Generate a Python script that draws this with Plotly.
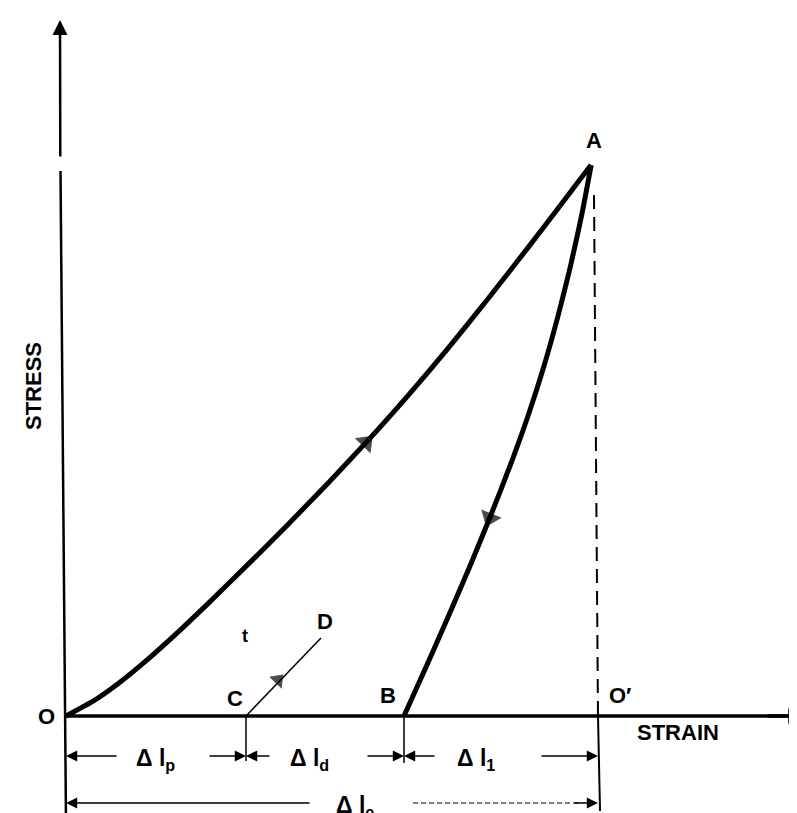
import plotly.graph_objects as go

# ---------------- data (strain, stress in arbitrary diagram units) ----------------
load_strain = [0, 2.7, 5.2, 8.2, 11.2, 14.2, 18.2, 22.2, 26.2, 30.2, 34.2, 38.2, 42.2, 46.2, 49.2, 52.5]
load_stress = [0, 1.48, 3.23, 5.69, 8.39, 11.24, 15.16, 19.16, 23.28, 27.56, 32.04, 36.76, 41.72, 46.84, 50.74, 55.1]

unload_strain = [52.52, 51.55, 50.45, 49.2, 47.8, 46.2, 44.4, 42.45, 40.4, 38.25, 36.05, 33.8]
unload_stress = [55.1, 50.0, 45.0, 40.0, 35.0, 30.0, 25.0, 20.0, 15.0, 10.0, 5.0, 0]

# creep-recovery segment C -> D
cd_strain = [18.0, 25.5]
cd_stress = [0.0, 7.8]

# key strains on the axis
strain_O, strain_C, strain_B, strain_O2 = 0.0, 18.0, 33.8, 53.2
stress_A = 52.1

point_names = ["O", "A", "B", "C", "D", "O′"]
label_x = [-2.0, 52.8, 32.2, 16.9, 25.9, 55.4]
label_y = [0.0, 57.6, 2.1, 1.8, 9.5, 2.1]

# direction arrows on curves
arrow_x = [30.0, 42.37, 21.2]
arrow_y = [27.35, 19.8, 3.6]
arrow_angle = [44, 202, 44]

# dimension rows
dim_rows = [-4.0, -4.0, -4.0, -8.7]
dim_text = ["Δ l<sub>p</sub>", "Δ l<sub>d</sub>", "Δ l<sub>1</sub>", "Δ l<sub>e</sub>"]
dim_text_x = [8.9, 24.3, 41.0, 28.9]
dim_left = [(strain_O, 5.2), (strain_C, 20.5), (strain_B, 37.0), (strain_O, 24.5)]
dim_right = [(14.2, strain_C), (30.0, strain_B), (47.4, strain_O2), (34.7, strain_O2)]

# ---------------- figure ----------------
BLK = "#000000"
FONT = "Liberation Sans"
fig = go.Figure()

fig.add_trace(go.Scatter(x=load_strain, y=load_stress, mode="lines",
                         line=dict(color=BLK, width=5, shape="spline", smoothing=0.6),
                         hoverinfo="skip", showlegend=False))
fig.add_trace(go.Scatter(x=unload_strain, y=unload_stress, mode="lines",
                         line=dict(color=BLK, width=5, shape="spline", smoothing=0.6),
                         hoverinfo="skip", showlegend=False))
fig.add_trace(go.Scatter(x=cd_strain, y=cd_stress, mode="lines",
                         line=dict(color=BLK, width=1.5),
                         hoverinfo="skip", showlegend=False))
fig.add_trace(go.Scatter(x=arrow_x, y=arrow_y, mode="markers",
                         marker=dict(symbol="triangle-up", size=[19, 19, 15], angle=arrow_angle,
                                     color=BLK, line=dict(width=0)),
                         hoverinfo="skip", showlegend=False))

shapes = []
def seg(x0, y0, x1, y1, w=2, dash=None):
    d = dict(type="line", xref="x", yref="y", x0=x0, y0=y0, x1=x1, y1=y1,
             line=dict(color=BLK, width=w))
    if dash:
        d["line"]["dash"] = dash
    shapes.append(d)

# x axis
seg(0, 0, 73.2, 0, w=3.5)
# y axis (with small print gap) and its extension below origin
seg(0, -10.6, -0.55, 54.5, w=2.5)
# extension lines
seg(strain_C, 0, strain_C, -4.5, w=1.5)
seg(strain_B, 0, strain_B, -4.7, w=1.5)
seg(strain_O2, 0, strain_O2 + 0.2, -9.5, w=2)
# dashed line A -> O'
seg(52.8, stress_A, strain_O2, 0, w=2, dash="14px,8px")

annotations = []
def arrow(hx, hy, tx, ty, w=1.6, size=1.4, head=2):
    annotations.append(dict(x=hx, y=hy, ax=tx, ay=ty, xref="x", yref="y", axref="x", ayref="y",
                            text="", showarrow=True, arrowhead=head, arrowsize=size,
                            arrowwidth=w, arrowcolor=BLK))

for i, yv in enumerate(dim_rows):
    head_l, tail_l = dim_left[i]
    arrow(head_l, yv, tail_l, yv)
    tail_r, head_r = dim_right[i]
    if i == 3:
        seg(tail_r, yv, head_r - 2.0, yv, w=1.2, dash="5px,3px")
        arrow(head_r, yv, head_r - 2.5, yv)
    else:
        arrow(head_r, yv, tail_r, yv)

# axis arrowheads
arrow(-0.6, 69.6, -0.57, 55.8, w=2.5, size=1.2)
arrow(73.8, 0, 70.0, 0, w=3.5, size=0.9)

for i, t in enumerate(dim_text):
    annotations.append(dict(x=dim_text_x[i], y=dim_rows[i] - 0.3, xref="x", yref="y", text=t,
                            showarrow=False, xanchor="center", yanchor="middle",
                            font=dict(family=FONT, size=23, color=BLK, weight="bold")))

for n, lx, ly in zip(point_names, label_x, label_y):
    annotations.append(dict(x=lx, y=ly, xref="x", yref="y", text=n, showarrow=False,
                            xanchor="center", yanchor="middle",
                            font=dict(family=FONT, size=22, color=BLK, weight="bold")))

annotations.append(dict(x=17.9, y=8.0, xref="x", yref="y", text="t", showarrow=False,
                        font=dict(family=FONT, size=18, color=BLK, weight="bold")))
annotations.append(dict(x=61.2, y=-1.6, xref="x", yref="y", text="STRAIN", showarrow=False,
                        xanchor="center", yanchor="middle",
                        font=dict(family=FONT, size=22, color=BLK, weight="bold")))
annotations.append(dict(x=-3.3, y=33.0, xref="x", yref="y", text="STRESS", showarrow=False,
                        textangle=-90, xanchor="center", yanchor="middle",
                        font=dict(family=FONT, size=22, color=BLK, weight="bold")))

fig.update_layout(
    width=797, height=813,
    margin=dict(l=0, r=0, t=0, b=0),
    paper_bgcolor="white", plot_bgcolor="white",
    xaxis=dict(range=[-5.8, 73.9], visible=False, fixedrange=True),
    yaxis=dict(range=[-10.5, 70.8], visible=False, fixedrange=True),
    shapes=shapes, annotations=annotations, showlegend=False,
)

fig.write_html("out.html")
